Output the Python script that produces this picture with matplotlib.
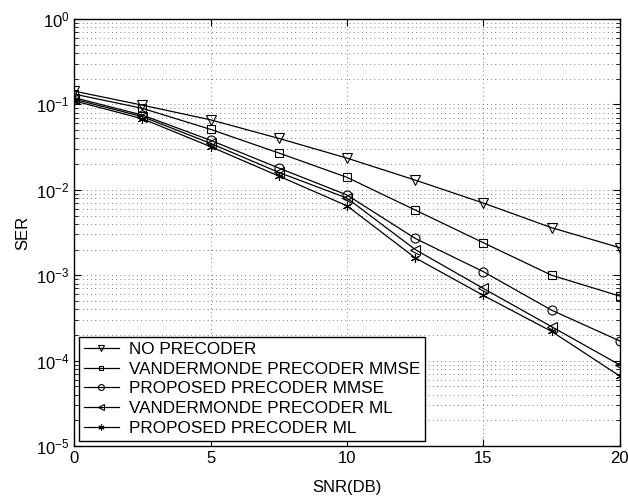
import numpy as np
import matplotlib
matplotlib.use("Agg")
import matplotlib.pyplot as plt
from matplotlib.ticker import LogLocator, FixedLocator

plt.rcParams['font.family'] = ['Liberation Sans', 'DejaVu Sans']
plt.rcParams['mathtext.fontset'] = 'custom'
plt.rcParams['mathtext.rm'] = 'Liberation Sans'
plt.rcParams['mathtext.it'] = 'Liberation Sans'

# SNR points (dB)
snr = [0, 2.5, 5, 7.5, 10, 12.5, 15, 17.5, 20]

# SER curves
no_precoder = [0.143, 0.098, 0.066, 0.040, 0.0235, 0.013, 0.0070, 0.0036, 0.0021]
vander_mmse = [0.132, 0.090, 0.051, 0.027, 0.014, 0.0058, 0.0024, 0.0010, 0.00057]
proposed_mmse = [0.120, 0.075, 0.038, 0.018, 0.0087, 0.0027, 0.0011, 0.00039, 0.00017]
vander_ml = [0.115, 0.072, 0.035, 0.016, 0.0080, 0.0020, 0.00070, 0.00025, 0.000089]
proposed_ml = [0.110, 0.068, 0.032, 0.0145, 0.0065, 0.0016, 0.00058, 0.00022, 0.000066]

labels = ["NO PRECODER", "VANDERMONDE PRECODER MMSE", "PROPOSED PRECODER MMSE",
          "VANDERMONDE PRECODER ML", "PROPOSED PRECODER ML"]
series = [no_precoder, vander_mmse, proposed_mmse, vander_ml, proposed_ml]
markers = ['v', 's', 'o', '<', (6, 2, 0)]
msizes = [6.5, 5.5, 6.5, 6.5, 6.5]

fig = plt.figure(figsize=(6.28, 4.99), dpi=100)
ax = fig.add_axes([0.118, 0.106, 0.869, 0.856])

for y, lab, m, ms in zip(series, labels, markers, msizes):
    ax.semilogy(snr, y, color='black', linewidth=0.9, marker=m,
                markersize=ms, markerfacecolor='none',
                markeredgecolor='black', markeredgewidth=0.8, label=lab)

ax.set_xlim(0, 20)
ax.set_ylim(1e-5, 1)
ax.xaxis.set_major_locator(FixedLocator([0, 5, 10, 15, 20]))
ax.yaxis.set_major_locator(LogLocator(base=10, numticks=10))
ax.yaxis.set_minor_locator(LogLocator(base=10, subs=np.arange(2, 10), numticks=10))
ax.yaxis.set_minor_formatter(plt.NullFormatter())

grid_style = dict(linestyle=(0, (1, 4)), color='0.35', linewidth=0.6)
ax.grid(True, which='major', axis='both', **grid_style)
ax.grid(True, which='minor', axis='y', **grid_style)

ax.tick_params(which='both', direction='in', top=True, right=True, labelsize=12)
ax.tick_params(which='major', length=5)
ax.tick_params(which='minor', length=3)
for s in ax.spines.values():
    s.set_linewidth(1.0)

ax.set_xlabel("SNR(DB)", fontsize=12, labelpad=10)
ax.set_ylabel("SER", fontsize=12)

leg = ax.legend(loc='lower left', fontsize=12.3, frameon=True, fancybox=False,
                edgecolor='black', framealpha=1, borderaxespad=0.3,
                labelspacing=0.28, handlelength=2.0, handletextpad=0.6,
                borderpad=0.3, markerscale=0.65)
leg.get_frame().set_linewidth(1.0)

fig.savefig("out.png", dpi=100)
